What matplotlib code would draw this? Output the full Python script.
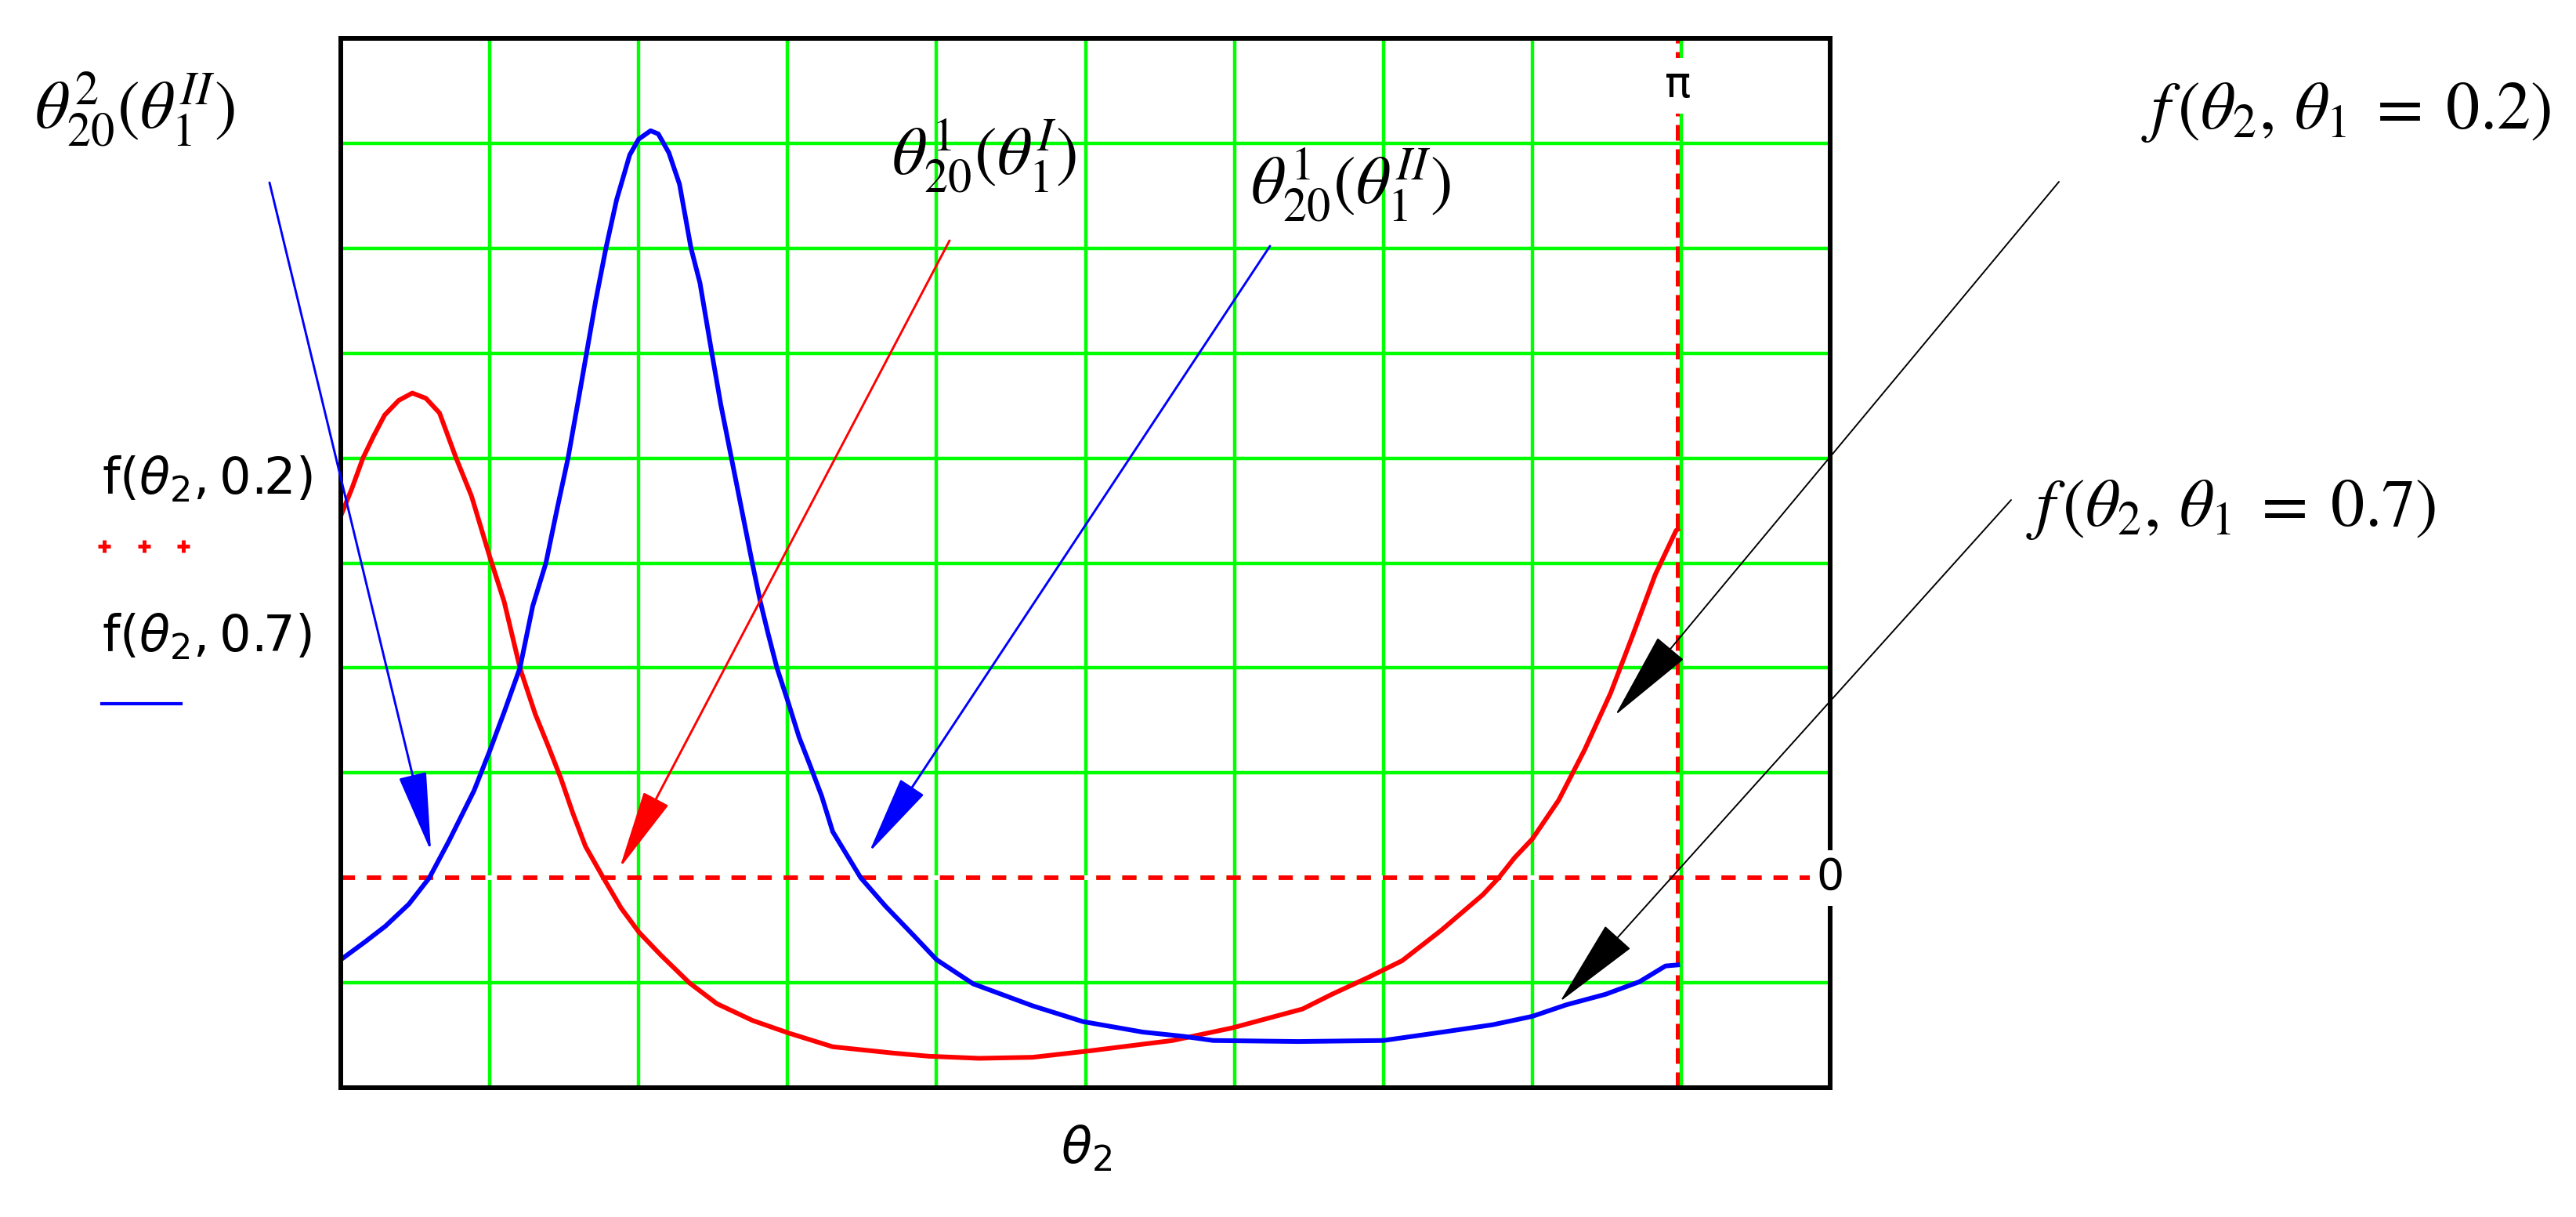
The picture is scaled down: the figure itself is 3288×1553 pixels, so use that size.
import numpy as np
import matplotlib
matplotlib.use("Agg")
import matplotlib.pyplot as plt
from matplotlib.lines import Line2D

# f(theta2, theta1 = 0.2)  (red)
x_red = [0.0, 0.026, 0.052, 0.077, 0.103, 0.136, 0.168, 0.20, 0.232, 0.271, 0.307,
         0.35, 0.384, 0.421, 0.457, 0.488, 0.517, 0.545, 0.575, 0.617, 0.659, 0.701,
         0.753, 0.819, 0.884, 0.968, 1.053, 1.156, 1.298, 1.382, 1.50, 1.626, 1.757,
         1.955, 2.095, 2.26, 2.329, 2.414, 2.494, 2.586, 2.684, 2.721, 2.758, 2.80,
         2.862, 2.923, 2.984, 3.034, 3.089, 3.138, 3.1416]
y_red = [3.45, 3.71, 4.0, 4.21, 4.41, 4.55, 4.62, 4.57, 4.43, 4.0, 3.64,
         3.06, 2.63, 2.0, 1.56, 1.25, 0.95, 0.62, 0.30, 0.0, -0.29, -0.52,
         -0.74, -1.00, -1.20, -1.36, -1.48, -1.61, -1.67, -1.70, -1.72, -1.71, -1.65,
         -1.55, -1.43, -1.25, -1.11, -0.95, -0.79, -0.50, -0.16, 0.0, 0.19, 0.37,
         0.74, 1.22, 1.76, 2.29, 2.89, 3.31, 3.32]

# f(theta2, theta1 = 0.7)  (blue)
x_blue = [0.0, 0.057, 0.105, 0.16, 0.208, 0.254, 0.313, 0.35, 0.384, 0.421, 0.451,
          0.482, 0.507, 0.534, 0.562, 0.599, 0.623, 0.648, 0.679, 0.70, 0.728, 0.746,
          0.771, 0.796, 0.823, 0.844, 0.872, 0.893, 0.918, 0.943, 0.967, 0.986, 1.004,
          1.025, 1.05, 1.077, 1.102, 1.13, 1.156, 1.222, 1.28, 1.344, 1.40, 1.486,
          1.626, 1.744, 1.885, 1.979, 2.05, 2.25, 2.45, 2.589, 2.707, 2.80, 2.88,
          2.972, 3.052, 3.113, 3.1416]
y_blue = [-0.78, -0.61, -0.46, -0.25, 0.0, 0.35, 0.83, 1.21, 1.58, 2.0, 2.59,
          3.0, 3.49, 4.0, 4.64, 5.50, 6.0, 6.46, 6.89, 7.04, 7.12, 7.09,
          6.91, 6.61, 6.0, 5.67, 5.0, 4.51, 4.0, 3.49, 3.0, 2.63, 2.33,
          2.0, 1.69, 1.34, 1.08, 0.78, 0.44, 0.0, -0.27, -0.54, -0.78, -1.01,
          -1.22, -1.37, -1.47, -1.51, -1.55, -1.56, -1.55, -1.47, -1.40, -1.32, -1.21,
          -1.11, -0.99, -0.84, -0.83]

x_max = 3.5
x_step = 0.35
y_min, y_max = -2, 8
pi_mark = np.pi

# annotation texts and where their arrows point (data coords)
annot_texts = [r'$\theta_{20}^{2}(\theta_{1}^{II})$',
               r'$\theta_{20}^{1}(\theta_{1}^{I})$',
               r'$\theta_{20}^{1}(\theta_{1}^{II})$',
               r'$f\,(\theta_2,\,\theta_1\;=\;0.2)$',
               r'$f\,(\theta_2,\,\theta_1\;=\;0.7)$']
arrow_tip_x = [0.212, 0.655, 1.241, 2.995, 2.865]
arrow_tip_y = [0.25, 0.09, 0.24, 1.55, -1.18]
annot_colors = ['blue', 'red', 'blue', 'black', 'black']

W, H = 3288, 1553
# layout in image pixels (x from left, y from top)
text_pos = [(172, 140), (1256, 199), (1724, 236), (2995, 143), (2848, 650)]
line_start = [(344, 233), (1212, 307), (1621, 314), (2628, 232), (2567, 638)]

plt.rcParams['font.family'] = ['DejaVu Sans']
plt.rcParams['mathtext.fontset'] = 'stix'

fig = plt.figure(figsize=(W / 100, H / 100), dpi=100)
fig.patch.set_facecolor('white')
ax = fig.add_axes([435 / W, 1 - 1388 / H, (2336 - 435) / W, (1388 - 49) / H])

ax.set_xlim(0, x_max)
ax.set_ylim(y_min, y_max)
ax.set_xticks(np.arange(0, x_max + 0.01, x_step))
ax.set_yticks(np.arange(y_min, y_max + 1, 1))
ax.tick_params(length=0, labelbottom=False, labelleft=False)
ax.grid(True, color='#00ff00', lw=3.2, zorder=0)
ax.set_axisbelow(True)
for sp in ax.spines.values():
    sp.set_linewidth(4.3)
    sp.set_color('black')

ax.axhline(0, color='red', lw=4.2, ls=(0, (3.1, 2.6)), gapcolor='white', zorder=1.5)
ax.axvline(pi_mark, color='red', lw=3.6, ls=(0, (4.0, 2.2)), zorder=1.5)

ax.plot(x_red, y_red, color='#ff0000', lw=4.3, zorder=2)
ax.plot(x_blue, y_blue, color='#0000ff', lw=4.3, zorder=2)

# pi and 0 markers
ax.text(pi_mark, y_max - 0.45, 'π', ha='center', va='center', fontsize=40,
        bbox=dict(facecolor='white', edgecolor='none', pad=6), zorder=5)
ax.text(x_max, 0, '0', ha='center', va='center', fontsize=40,
        bbox=dict(facecolor='white', edgecolor='none', pad=6), zorder=5, clip_on=False)

# x label
fig.text(1387 / W, 1 - 1466 / H, r'$\theta_2$', ha='center', va='center',
         fontsize=46, math_fontfamily='dejavusans')

# left trace legend
fig.text(130 / W, 1 - 612 / H, r'f$\left(\theta_{2},0.2\right)$', ha='left', va='center',
         fontsize=46, math_fontfamily='dejavusans')
fig.add_artist(Line2D([133 / W, 184 / W, 234 / W], [1 - 697 / H] * 3, ls='none',
                      marker='+', ms=11, mew=3.5, color='red'))
fig.text(130 / W, 1 - 813 / H, r'f$\left(\theta_{2},0.7\right)$', ha='left', va='center',
         fontsize=46, math_fontfamily='dejavusans')
fig.add_artist(Line2D([130 / W, 231 / W], [1 - 898 / H] * 2, lw=3, color='blue'))

# annotations
for i in range(len(annot_texts)):
    c = annot_colors[i]
    if c == 'black':
        lw, style = 1.4, '-|>,head_length=7.5,head_width=1.45'
    else:
        lw, style = 2.1, '-|>,head_length=6.5,head_width=1.15'
    fig.text(text_pos[i][0] / W, 1 - text_pos[i][1] / H, annot_texts[i],
             ha='center', va='center', fontsize=62)
    ax.annotate('', xy=(arrow_tip_x[i], arrow_tip_y[i]), xycoords='data',
                xytext=(line_start[i][0], H - line_start[i][1]), textcoords='figure pixels',
                arrowprops=dict(arrowstyle=style, mutation_scale=10, color=c, lw=lw,
                                shrinkA=0, shrinkB=0),
                annotation_clip=False, zorder=6)

fig.savefig('out.png', dpi=100)
